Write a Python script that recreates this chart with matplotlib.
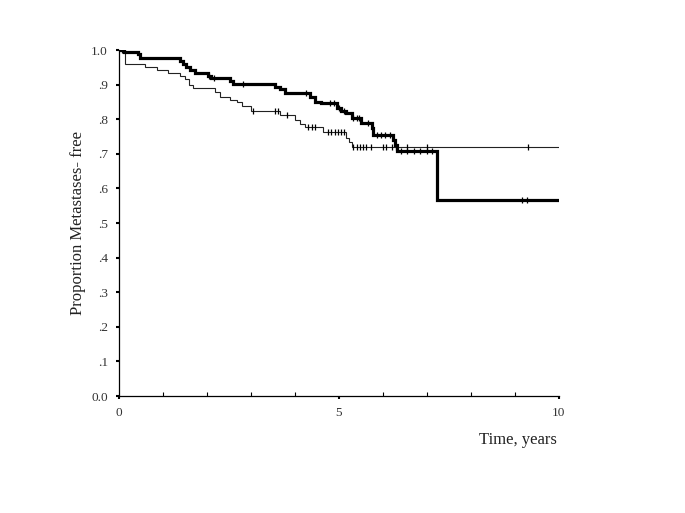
import numpy as np
import matplotlib
matplotlib.use("Agg")
import matplotlib.pyplot as plt
from matplotlib.ticker import FixedLocator

plt.rcParams['font.family'] = ['Liberation Serif', 'DejaVu Serif']

# thick curve (step times, survival after step)
thick_t = [0, 0.12, 0.44, 0.48, 1.39, 1.45, 1.52, 1.62, 1.73, 2.02, 2.1, 2.52, 2.6,
           3.55, 3.66, 3.77, 4.34, 4.45, 4.6, 4.95, 5.05, 5.17, 5.29, 5.51, 5.74,
           5.78, 6.23, 6.27, 6.31, 7.22]
thick_s = [1.0, 0.993, 0.988, 0.978, 0.968, 0.961, 0.952, 0.942, 0.933, 0.926, 0.918,
           0.910, 0.902, 0.894, 0.886, 0.875, 0.863, 0.851, 0.846, 0.831, 0.824, 0.817,
           0.803, 0.788, 0.774, 0.754, 0.740, 0.725, 0.708, 0.566]
thick_cens = [0.06, 2.05, 2.15, 2.81, 4.25, 4.8, 4.88, 5.0, 5.12, 5.32, 5.4, 5.45, 5.65,
              5.86, 5.95, 6.05, 6.16, 6.4, 6.55, 6.7, 6.85, 7.0, 7.12, 9.15, 9.27]

# thin curve
thin_t = [0, 0.14, 0.59, 0.86, 1.11, 1.39, 1.5, 1.59, 1.69, 2.18, 2.3, 2.52, 2.68,
          2.79, 3.01, 3.66, 4.0, 4.11, 4.23, 4.64, 5.17, 5.23, 5.29]
thin_s = [1.0, 0.959, 0.950, 0.942, 0.933, 0.926, 0.917, 0.900, 0.889, 0.878, 0.865,
          0.856, 0.850, 0.837, 0.824, 0.812, 0.798, 0.786, 0.777, 0.764, 0.745, 0.735,
          0.720]
thin_cens = [3.04, 3.55, 3.62, 3.81, 4.3, 4.38, 4.45, 4.75, 4.82, 4.9, 4.97, 5.05, 5.12,
             5.32, 5.4, 5.47, 5.55, 5.62, 5.72, 6.0, 6.08, 6.2, 6.3, 6.55, 7.0, 9.3]

y_ticks = [0.0, 0.1, 0.2, 0.3, 0.4, 0.5, 0.6, 0.7, 0.8, 0.9, 1.0]
y_labels = ['0.0', '.1', '.2', '.3', '.4', '.5', '.6', '.7', '.8', '.9', '1.0']
x_ticks = [0, 5, 10]
t_end = 10


def value_at(times, surv, t):
    i = np.searchsorted(times, t, side='right') - 1
    return np.asarray(surv)[i]


fig = plt.figure(figsize=(6.85, 5.13), dpi=100)
ax = fig.add_axes([0.1737, 0.228, 0.6423, 0.6745])

for times, surv, cens, lw, col in [(thin_t, thin_s, thin_cens, 0.8, '#222222'),
                                   (thick_t, thick_s, thick_cens, 2.3, 'black')]:
    tt = list(times) + [t_end]
    ss = list(surv) + [surv[-1]]
    ax.plot(tt, ss, drawstyle='steps-post', color=col, lw=lw,
            solid_joinstyle='miter')
    ax.plot(cens, value_at(times, surv, cens), ls='none', marker='|',
            color='black', ms=5, mew=0.9)

ax.set_xlim(0, 10)
ax.set_ylim(0, 1.0)
ax.spines['top'].set_visible(False)
ax.spines['right'].set_visible(False)
ax.spines['left'].set_linewidth(0.9)
ax.spines['bottom'].set_linewidth(0.9)

ax.set_yticks(y_ticks)
ax.set_yticklabels(y_labels)
ax.set_xticks(x_ticks)
ax.set_xticklabels([str(v) for v in x_ticks])
ax.xaxis.set_minor_locator(FixedLocator([1, 2, 3, 4, 6, 7, 8, 9]))
ax.tick_params(axis='y', direction='out', length=2, width=1.5, labelsize=9.5,
               pad=6, labelcolor='#333333')
ax.tick_params(axis='x', which='major', direction='out', length=2, width=1.5,
               labelsize=9.5, pad=6, labelcolor='#333333')
ax.tick_params(axis='x', which='minor', direction='in', length=3, width=0.8)

ax.set_ylabel('Proportion Metastases- free', fontsize=12, labelpad=4,
              color='#222222')
fig.text(0.813, 0.142, 'Time, years', fontsize=12, ha='right', va='center',
         color='#222222')

fig.savefig('out.png', dpi=100)
